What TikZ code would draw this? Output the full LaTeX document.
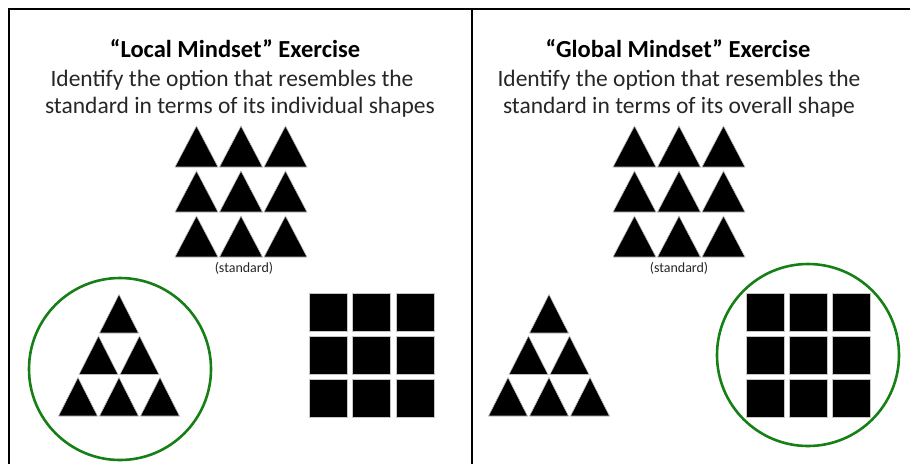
\documentclass[tikz,border=0pt]{standalone}
\usepackage{fontspec}
\setmainfont{Carlito}
\definecolor{ringgreen}{RGB}{22,128,22}
\begin{document}
\begin{tikzpicture}[x=1pt,y=-1pt,
    tri/.style={fill=black,draw=gray!50,line width=0.6pt},
    sq/.style={fill=black,draw=gray!45,line width=1pt},
    ring/.style={circle,draw=ringgreen,line width=2.6pt,minimum size=182pt,inner sep=0pt},
    frame/.style={draw=black,line width=2pt},
    txt/.style={anchor=base,text=black!85,font=\fontsize{23.5}{28}\selectfont},
    ttl/.style={anchor=base,font=\fontsize{24.5}{28}\selectfont\bfseries},
    lbl/.style={anchor=base,text=black!85,font=\fontsize{14}{16}\selectfont}]
    \useasboundingbox (0,0) rectangle (910,464);

    % frame and divider
    \draw[frame] (9,464) -- (9,9) -- (910,9);
    \draw[frame] (472,9) -- (472,464);

    % left panel
    \node[ttl] (ltitle) at (235,57) {“Local Mindset” Exercise};
    \node[txt] (lline1) at (232,86) {Identify the option that resembles the};
    \node[txt] (lline2) at (240,113) {standard in terms of its individual shapes};

    \foreach \c in {0, 1, 2}
        \foreach \r in {0, 1, 2}
            \filldraw[tri] ({175+44.5*\c},{167+45*\r}) -- ++(43,0) -- ++(-21.5,-41) -- cycle;
    \node[lbl] (lstd) at (244,272) {(standard)};

    \node[ring] (lring) at (120,369) {};
    \foreach \i in {0, 1, 2}
        \foreach \j in {0,...,\i}
            \filldraw[tri] ({119+41*(\j-\i/2)-19.5},{333+41.5*\i}) -- ++(39,0) -- ++(-19.5,-38.5) -- cycle;

    \foreach \c in {0, 1, 2}
        \foreach \r in {0, 1, 2}
            \filldraw[sq] ({309+43.5*\c},{293+43*\r}) rectangle ++(38,38);

    % right panel
    \node[ttl] (rtitle) at (678,57) {“Global Mindset” Exercise};
    \node[txt] (rline1) at (679,86) {Identify the option that resembles the};
    \node[txt] (rline2) at (679,113) {standard in terms of its overall shape};

    \foreach \c in {0, 1, 2}
        \foreach \r in {0, 1, 2}
            \filldraw[tri] ({613+44.5*\c},{167+45*\r}) -- ++(43,0) -- ++(-21.5,-41) -- cycle;
    \node[lbl] (rstd) at (679,272) {(standard)};

    \foreach \i in {0, 1, 2}
        \foreach \j in {0,...,\i}
            \filldraw[tri] ({549+41*(\j-\i/2)-19.5},{333+41.5*\i}) -- ++(39,0) -- ++(-19.5,-38.5) -- cycle;

    \node[ring] (rring) at (808,355) {};
    \foreach \c in {0, 1, 2}
        \foreach \r in {0, 1, 2}
            \filldraw[sq] ({746+43*\c},{293+43*\r}) rectangle ++(38,38);
\end{tikzpicture}
\end{document}
